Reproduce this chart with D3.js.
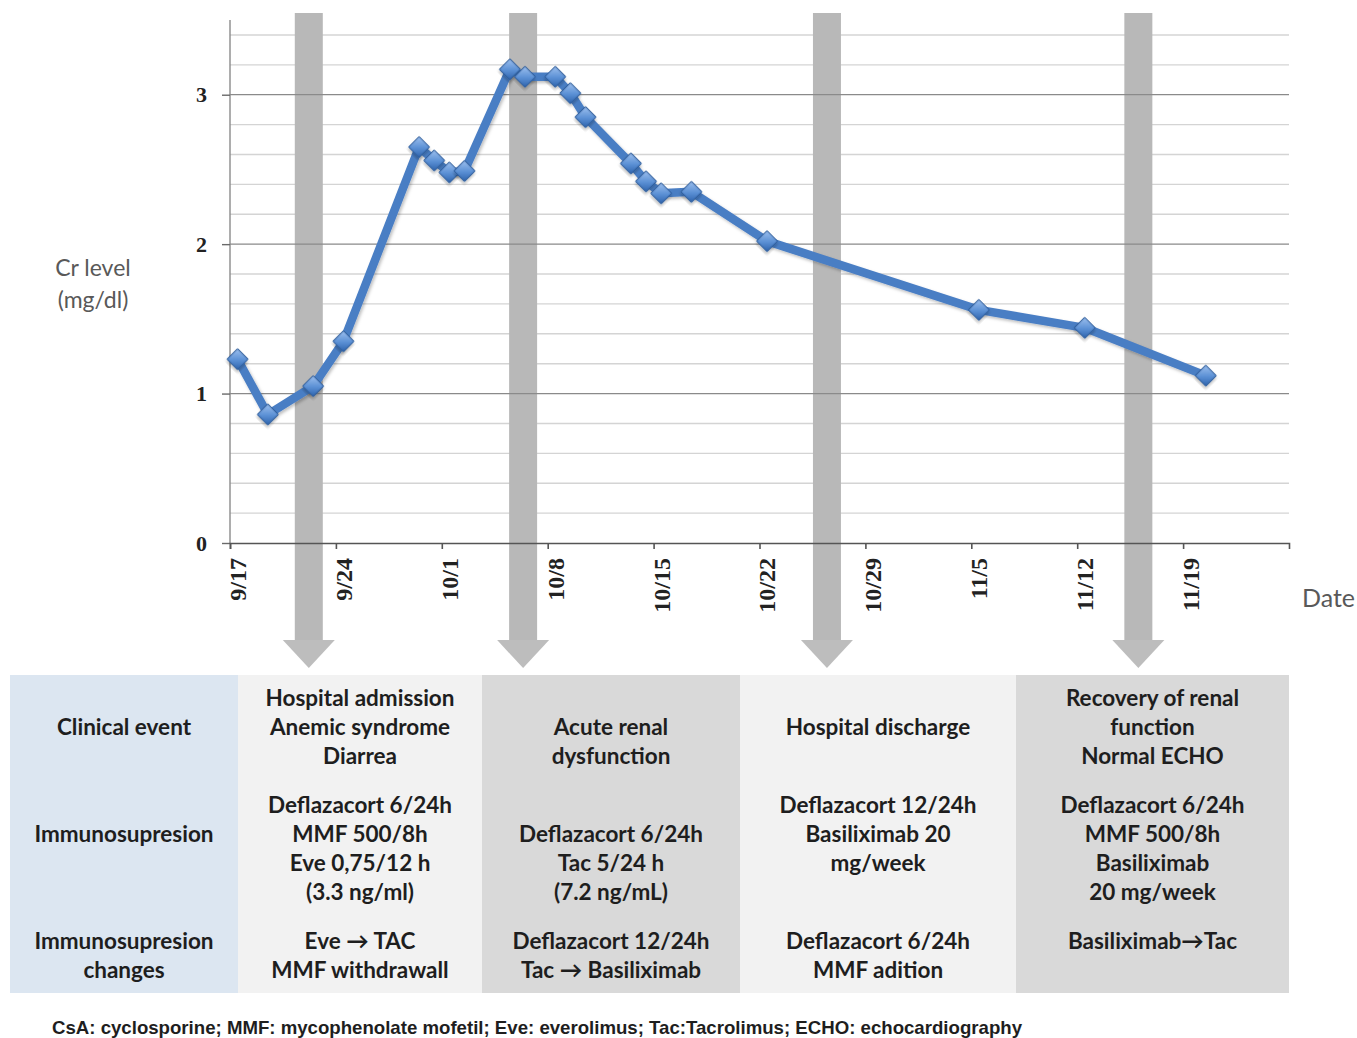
<!DOCTYPE html>
<html>
<head>
<meta charset="utf-8">
<script src="https://cdn.jsdelivr.net/npm/d3@7/dist/d3.min.js"></script>
<style>
  html, body { margin: 0; padding: 0; background: #fff; overflow: hidden; }
  svg { display: block; }
</style>
</head>
<body>
<svg id="chart" width="1357" height="1038"></svg>
<script>
// ---------------- DATA ----------------
const measureDates = ["2011-09-17","2011-09-19","2011-09-22","2011-09-24","2011-09-29","2011-09-30",
  "2011-10-01","2011-10-02","2011-10-05","2011-10-06","2011-10-08","2011-10-09","2011-10-10",
  "2011-10-13","2011-10-14","2011-10-15","2011-10-17","2011-10-22","2011-11-05","2011-11-12","2011-11-20"];
const crValues = [1.23, 0.86, 1.05, 1.35, 2.65, 2.56, 2.48, 2.49, 3.17, 3.12, 3.12, 3.01, 2.85,
  2.54, 2.42, 2.34, 2.35, 2.02, 1.56, 1.44, 1.12];

const tickDates = ["2011-09-17","2011-09-24","2011-10-01","2011-10-08","2011-10-15","2011-10-22",
  "2011-10-29","2011-11-05","2011-11-12","2011-11-19"];
const tickLabels = ["9/17","9/24","10/1","10/8","10/15","10/22","10/29","11/5","11/12","11/19"];
const yTickValues = [0, 1, 2, 3];
const yTickLabels = ["0", "1", "2", "3"];

// clinical event markers (grey arrows)
const eventDates = ["2011-09-22T05:00","2011-10-06T09:00","2011-10-26T11:00","2011-11-16T01:00"];

// table contents
const rowHeaders = [["Clinical  event"], ["Immunosupresion"], ["Immunosupresion", "changes"]];
const clinicalEvents = [
  ["Hospital admission", "Anemic syndrome", "Diarrea"],
  ["Acute renal", "dysfunction"],
  ["Hospital discharge"],
  ["Recovery of renal", "function", "Normal ECHO"]
];
const immunosupresion = [
  ["Deflazacort 6/24h", "MMF 500/8h", "Eve 0,75/12 h", "(3.3 ng/ml)"],
  ["Deflazacort 6/24h", "Tac 5/24 h", "(7.2 ng/mL)"],
  ["Deflazacort 12/24h", "Basiliximab 20", "mg/week"],
  ["Deflazacort 6/24h", "MMF 500/8h", "Basiliximab", "20 mg/week"]
];
const immunoChanges = [
  ["Eve \u2192 TAC", "MMF withdrawall"],
  ["Deflazacort 12/24h", "Tac \u2192 Basiliximab"],
  ["Deflazacort 6/24h", "MMF adition"],
  ["Basiliximab\u2192Tac"]
];
const footnote = "CsA: cyclosporine; MMF: mycophenolate mofetil; Eve: everolimus; Tac:Tacrolimus; ECHO: echocardiography";

// ---------------- LAYOUT ----------------
const parse = d3.isoParse;
const svg = d3.select("#chart");
const plot = { left: 230, right: 1289, top: 20, bottom: 543 };

const x = d3.scaleUtc()
  .domain([parse("2011-09-17"), parse("2011-11-26")])
  .range([plot.left, plot.right]);
const y = d3.scaleLinear().domain([0, 3.5]).range([plot.bottom, plot.top]);
const halfDay = (x(parse("2011-09-18")) - x(parse("2011-09-17"))) / 2;

const defs = svg.append("defs");
const grad = defs.append("linearGradient").attr("id", "mk")
  .attr("x1", "0").attr("y1", "0").attr("x2", "1").attr("y2", "1");
grad.append("stop").attr("offset", "0%").attr("stop-color", "#9dc0ee");
grad.append("stop").attr("offset", "55%").attr("stop-color", "#5a8fd4");
grad.append("stop").attr("offset", "100%").attr("stop-color", "#2f64ad");
const sh = defs.append("filter").attr("id", "shadow").attr("x", "-20%").attr("y", "-20%")
  .attr("width", "140%").attr("height", "140%");
sh.append("feDropShadow").attr("dx", 1.5).attr("dy", 2).attr("stdDeviation", 1.5)
  .attr("flood-color", "#000").attr("flood-opacity", 0.25);

// minor gridlines
const minorVals = d3.range(0.2, 3.41, 0.2).filter(v => Math.abs(v - Math.round(v)) > 1e-6);
svg.append("g").selectAll("line").data(minorVals).join("line")
  .attr("x1", plot.left).attr("x2", plot.right)
  .attr("y1", d => y(d)).attr("y2", d => y(d))
  .attr("stroke", "#d4d4d4").attr("stroke-width", 1.4);

// event bars with arrowheads
const barW = 28, headW = 52, barTop = 13, headTop = 640, headTip = 668;
const ev = svg.append("g");
eventDates.forEach(d => {
  const cx = x(parse(d));
  ev.append("rect").attr("x", cx - barW / 2).attr("y", barTop)
    .attr("width", barW).attr("height", headTop - barTop).attr("fill", "#b8b8b8");
  ev.append("path")
    .attr("d", `M${cx - headW / 2},${headTop} L${cx + headW / 2},${headTop} L${cx},${headTip} Z`)
    .attr("fill", "#bdbdbd");
});

// major gridlines
svg.append("g").selectAll("line").data(yTickValues.filter(v => v > 0)).join("line")
  .attr("x1", plot.left).attr("x2", plot.right)
  .attr("y1", d => y(d)).attr("y2", d => y(d))
  .attr("stroke", "#8a8a8a").attr("stroke-width", 1.2);

// y axis
const yAxis = d3.axisLeft(y).tickValues(yTickValues)
  .tickFormat((d, i) => yTickLabels[i]).tickSize(8).tickPadding(15);
const gy = svg.append("g").attr("transform", `translate(${plot.left},0)`).call(yAxis);
gy.select(".domain").attr("stroke", "#8a8a8a").attr("stroke-width", 1.4)
  .attr("d", `M0,${plot.top}V${plot.bottom}`);
gy.selectAll(".tick line").attr("stroke", "#6a6a6a").attr("stroke-width", 1.4);
gy.selectAll(".tick text").attr("fill", "#222")
  .style("font-family", "'Liberation Serif', serif").style("font-size", "22px").style("font-weight", "bold");

// x axis
const xAxis = d3.axisBottom(x).tickValues(tickDates.map(parse))
  .tickFormat((d, i) => tickLabels[i]).tickSize(6).tickSizeOuter(6);
const gx = svg.append("g").attr("transform", `translate(0,${plot.bottom})`).call(xAxis);
gx.select(".domain").attr("stroke", "#555").attr("stroke-width", 1.6);
gx.selectAll(".tick line").attr("stroke", "#555").attr("stroke-width", 1.6);
gx.selectAll(".tick text")
  .attr("transform", "translate(7,15) rotate(-90)")
  .attr("text-anchor", "end").attr("x", 0).attr("y", 0).attr("dy", "0.35em")
  .attr("fill", "#222")
  .style("font-family", "'Liberation Serif', serif").style("font-size", "24px").style("font-weight", "bold");

// axis titles
svg.append("text").attr("x", 93).attr("y", 268).attr("dy", "0.35em").attr("text-anchor", "middle")
  .attr("fill", "#595959").style("font-family", "Lato, sans-serif").style("font-size", "23px")
  .text("Cr level");
svg.append("text").attr("x", 93).attr("y", 300).attr("dy", "0.35em").attr("text-anchor", "middle")
  .attr("fill", "#595959").style("font-family", "Lato, sans-serif").style("font-size", "23px")
  .text("(mg/dl)");
svg.append("text").attr("x", 1302).attr("y", 598).attr("dy", "0.35em")
  .attr("fill", "#595959").style("font-family", "Lato, sans-serif").style("font-size", "25px")
  .text("Date");

// data line
const pts = measureDates.map((d, i) => ({ date: parse(d), v: crValues[i] }));
const line = d3.line().x(d => x(d.date) + halfDay).y(d => y(d.v));
svg.append("path").datum(pts).attr("d", line)
  .attr("fill", "none").attr("stroke", "#4a7ec4").attr("stroke-width", 8.5)
  .attr("stroke-linejoin", "round").attr("stroke-linecap", "round")
  .attr("filter", "url(#shadow)");
svg.append("g").selectAll("path").data(pts).join("path")
  .attr("d", d3.symbol(d3.symbolSquare).size(215))
  .attr("transform", d => `translate(${x(d.date) + halfDay},${y(d.v)}) rotate(45)`)
  .attr("fill", "url(#mk)").attr("stroke", "#2d5c9c").attr("stroke-width", 1)
  .attr("filter", "url(#shadow)");

// ---------------- TABLE ----------------
const colEdges = [10, 238, 482, 740, 1016, 1289];
const colFills = ["#dce6f1", "#f2f2f2", "#d9d9d9", "#f2f2f2", "#d9d9d9"];
const tableTop = 675, tableBottom = 993;
const rowBase = [698, 805, 941];
const lineH = 29;
// starting line slot of each cell [row][col]
const startSlot = [
  [1, 0, 1, 1, 0],
  [1, 0, 1, 0, 0],
  [0, 0, 0, 0, 0]
];
const tbl = svg.append("g");
colFills.forEach((f, i) => {
  tbl.append("rect").attr("x", colEdges[i]).attr("y", tableTop)
    .attr("width", colEdges[i + 1] - colEdges[i]).attr("height", tableBottom - tableTop)
    .attr("fill", f);
});
const rows = [
  [rowHeaders[0]].concat(clinicalEvents),
  [rowHeaders[1]].concat(immunosupresion),
  [rowHeaders[2]].concat(immunoChanges)
];
rows.forEach((row, r) => {
  row.forEach((lines, c) => {
    const cx = (colEdges[c] + colEdges[c + 1]) / 2;
    lines.forEach((t, k) => {
      tbl.append("text").attr("x", cx)
        .attr("y", rowBase[r] + (startSlot[r][c] + k) * lineH)
        .attr("dy", "0.35em").attr("text-anchor", "middle")
        .attr("fill", "#1e1e1e")
        .style("font-family", "Lato, sans-serif").style("font-size", "22.5px").style("font-weight", "bold")
        .text(t);
    });
  });
});

// footnote
svg.append("text").attr("x", 52).attr("y", 1027).attr("dy", "0.35em")
  .attr("textLength", 970).attr("lengthAdjust", "spacingAndGlyphs")
  .attr("fill", "#1e1e1e")
  .style("font-family", "'Liberation Sans Narrow', 'Liberation Sans', sans-serif")
  .style("font-size", "19px").style("font-weight", "bold")
  .text(footnote);
</script>
</body>
</html>
